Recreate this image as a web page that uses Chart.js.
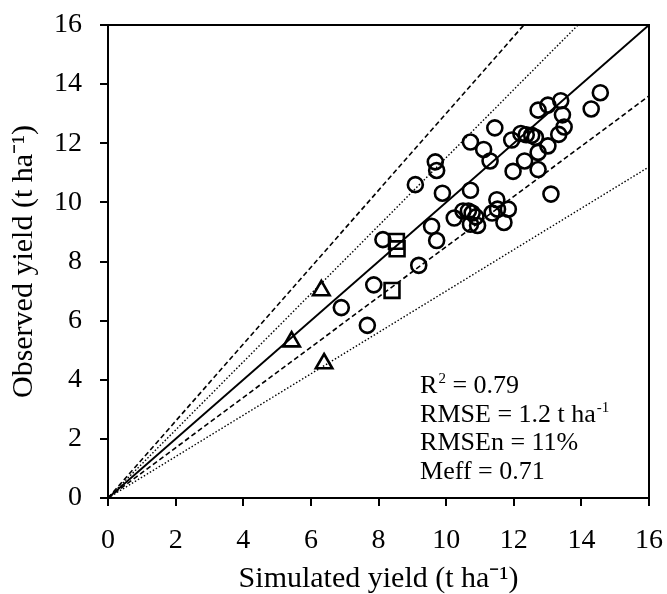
<!DOCTYPE html>
<html>
<head>
<meta charset="utf-8">
<script src="https://cdn.jsdelivr.net/npm/chart.js@4.4.1/dist/chart.umd.min.js"></script>
<style>
  html, body { margin: 0; padding: 0; background: #fff; }
</style>
</head>
<body>
<canvas id="chart" width="667" height="594"></canvas>
<script>
// simulated (x) and observed (y) yields, t ha-1
var circleSim = [14.56, 14.29, 13.39, 13.01, 12.72, 13.44, 13.49, 13.33, 12.21, 12.37, 12.53, 12.64,
                 11.44, 11.94, 10.72, 11.11, 11.30, 13.01, 12.72, 12.32, 12.72, 11.98, 9.68, 9.72,
                 9.09, 9.89, 10.72, 13.10, 11.50, 11.52, 11.84, 11.71, 11.36, 10.24, 10.50, 10.66,
                 10.77, 10.88, 10.72, 10.93, 9.57, 9.72, 8.13, 9.19, 7.86, 6.90, 7.67];
var circleObs = [13.71, 13.16, 13.44, 13.29, 13.12, 12.96, 12.55, 12.30, 12.33, 12.29, 12.27, 12.20,
                 12.52, 12.11, 12.04, 11.79, 11.40, 11.91, 11.69, 11.40, 11.11, 11.05, 11.37, 11.08,
                 10.60, 10.31, 10.41, 10.28, 10.09, 9.77, 9.77, 9.32, 9.64, 9.47, 9.71, 9.71,
                 9.64, 9.51, 9.26, 9.22, 9.19, 8.71, 8.74, 7.87, 7.21, 6.44, 5.84];
var squareSim = [8.53, 8.55, 8.40];
var squareObs = [8.68, 8.43, 7.02];
var triangleSim = [6.31, 5.43, 6.39];
var triangleObs = [7.02, 5.29, 4.55];

// reference lines: 1:1, dashed and dotted bounds (end points)
var lineOneToOne = [[0, 0], [16, 16]];
var dashedUpper = [[0, 0], [12.3, 16]];
var dashedLower = [[0, 0], [16, 13.6]];
var dottedUpper = [[0, 0], [13.9, 16]];
var dottedLower = [[0, 0], [16, 11.2]];

var axisMin = 0, axisMax = 16, tickStep = 2;

// statistics text: [text, superscript]
var statLines = [
  [['R', false], ['2', true], [' = 0.79', false]],
  [['RMSE = 1.2 t ha', false], ['-1', true]],
  [['RMSEn = 11%', false]],
  [['Meff = 0.71', false]]
];

var serif = 'Liberation Serif, Times New Roman, serif';

function pairs(xs, ys) {
  return xs.map(function(x, i) { return {x: x, y: ys[i]}; });
}
function pts(arr) {
  return arr.map(function(p) { return {x: p[0], y: p[1]}; });
}

function markerSet(data, style, r) {
  return {
    data: data,
    pointStyle: style,
    pointRadius: r,
    pointBorderWidth: 2.6,
    borderColor: '#000',
    backgroundColor: 'rgba(0,0,0,0)',
    showLine: false
  };
}
function refLine(data, width, dash) {
  return {
    data: data,
    showLine: true,
    pointRadius: 0,
    borderColor: '#000',
    borderWidth: width,
    borderDash: dash,
    fill: false
  };
}

var framePlugin = {
  id: 'frame',
  afterDraw: function(chart) {
    var a = chart.chartArea, ctx = chart.ctx;
    ctx.save();
    ctx.strokeStyle = '#000';
    ctx.lineWidth = 2;
    ctx.beginPath();
    ctx.moveTo(a.left, a.top);
    ctx.lineTo(a.right, a.top);
    ctx.lineTo(a.right, a.bottom);
    ctx.stroke();
    ctx.restore();
  }
};

var statsPlugin = {
  id: 'stats',
  afterDraw: function(chart) {
    var ctx = chart.ctx;
    var x0 = chart.scales.x.getPixelForValue(9.23);
    var y0 = chart.scales.y.getPixelForValue(3.55);
    ctx.save();
    ctx.fillStyle = '#000';
    ctx.textBaseline = 'alphabetic';
    statLines.forEach(function(line, i) {
      var x = x0, y = y0 + i * 28.5;
      line.forEach(function(seg) {
        if (seg[1]) {
          ctx.font = '15px ' + serif;
          ctx.fillText(seg[0], x + 1, y - 10);
          x += ctx.measureText(seg[0]).width + 1;
        } else {
          ctx.font = '26px ' + serif;
          ctx.fillText(seg[0], x, y);
          x += ctx.measureText(seg[0]).width;
        }
      });
    });
    ctx.restore();
  }
};

var axisCommon = {
  type: 'linear',
  min: axisMin,
  max: axisMax,
  grid: { drawOnChartArea: false, color: '#000', lineWidth: 2, tickLength: 8 },
  border: { color: '#000', width: 2 }
};

new Chart(document.getElementById('chart'), {
  type: 'scatter',
  data: {
    datasets: [
      refLine(pts(lineOneToOne), 2, []),
      refLine(pts(dashedUpper), 1.6, [5, 3]),
      refLine(pts(dashedLower), 1.6, [5, 3]),
      refLine(pts(dottedUpper), 1.4, [1.5, 2]),
      refLine(pts(dottedLower), 1.4, [1.5, 2]),
      markerSet(pairs(circleSim, circleObs), 'circle', 7.5),
      markerSet(pairs(squareSim, squareObs), 'rect', 10.5),
      markerSet(pairs(triangleSim, triangleObs), 'triangle', 9.5)
    ]
  },
  options: {
    responsive: false,
    animation: false,
    devicePixelRatio: 1,
    layout: { padding: { left: 0, top: 25, right: 18, bottom: 0 } },
    plugins: { legend: { display: false }, tooltip: { enabled: false } },
    scales: {
      x: Object.assign({}, axisCommon, {
        afterFit: function(s) { s.height = 96; s.paddingLeft = 0; s.paddingRight = 0; },
        ticks: { stepSize: tickStep, autoSkip: false, maxRotation: 0, color: '#000', padding: 18,
                 font: { family: serif, size: 28 } },
        title: { display: true, text: 'Simulated yield (t ha\u207B\u00B9)', color: '#000',
                 font: { family: serif, size: 30, lineHeight: 1 }, padding: { top: 0, bottom: 0 } }
      }),
      y: Object.assign({}, axisCommon, {
        afterFit: function(s) { s.width = 108; s.paddingTop = 0; s.paddingBottom = 0; },
        ticks: { stepSize: tickStep, autoSkip: false, color: '#000', padding: 18,
                 font: { family: serif, size: 28 } },
        title: { display: true, text: 'Observed yield (t ha\u207B\u00B9)', color: '#000',
                 font: { family: serif, size: 30, lineHeight: 1 }, padding: { top: 9, bottom: 0 } }
      })
    }
  },
  plugins: [framePlugin, statsPlugin]
});
</script>
</body>
</html>
